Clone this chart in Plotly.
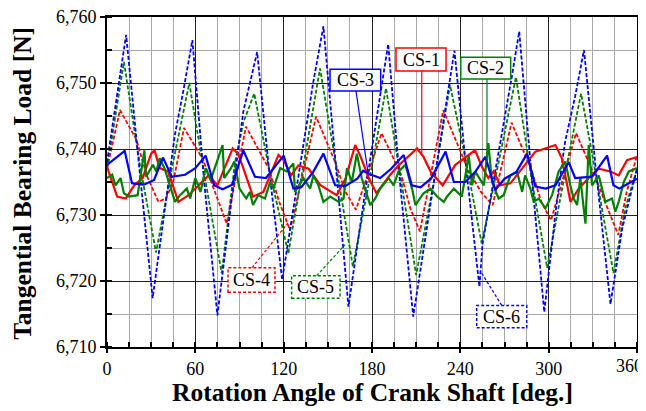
import plotly.graph_objects as go

# ---------------- data ----------------
cs1_x = [0, 6.9, 12.7, 18.5, 24.2, 30, 32.3, 35.8, 41.5, 48.5, 55.4, 62.3, 69, 75, 85.4, 88.9, 92.3, 99.2, 106.2,
         116.5, 120, 125, 130, 137, 145, 156, 162, 168.6, 172, 178, 183, 192, 198, 210.6, 215, 220, 228, 236.6,
         250, 254.7, 259, 262.6, 267, 274, 282, 291, 304.6, 309, 314.8, 320.4, 327.2, 334, 342, 347.6, 353.2, 360]
cs1_y = [6737.3, 6732.8, 6732.5, 6734.5, 6735.6, 6739.3, 6739.8, 6737.1, 6736.6, 6732.0, 6733.0, 6734.5, 6736.0,
         6734.5, 6740.1, 6739.3, 6737.3, 6732.8, 6733.5, 6739.1, 6738.3, 6736.0, 6737.5, 6737.0, 6734.5, 6733.0,
         6735.5, 6740.6, 6739.0, 6735.5, 6733.3, 6736.0, 6737.5, 6740.1, 6738.8, 6736.5, 6734.5, 6737.6, 6739.8,
         6737.3, 6735.6, 6736.6, 6734.5, 6734.8, 6737.0, 6739.6, 6740.6, 6738.6, 6732.0, 6734.0, 6735.6, 6737.0,
         6736.6, 6736.0, 6738.3, 6738.8]

cs2_x = [0, 3.5, 5.8, 9.2, 11.5, 15, 20.8, 25.4, 26.5, 31.2, 33.5, 35.8, 39.2, 42.7, 46.2, 49.6, 54.2, 56.5, 60,
         63.5, 67, 70.4, 78.5, 79.6, 84.2, 86.5, 90, 94.6, 97, 99.2, 102.7, 107.3, 110.8, 113, 117.7, 122, 126.6,
         127.7, 133.4, 138, 140.2, 143.6, 147, 151.6, 157.2, 160.7, 163, 166.3, 169.7, 173, 178.8, 182.2, 185.6,
         191.3, 194.7, 198, 202.7, 207.2, 209.5, 215, 219.7, 224.2, 228.8, 231, 235.6, 241, 245.7, 248, 250, 256,
         259, 261.5, 266, 269.4, 274, 278.5, 282, 284, 287.6, 289.8, 293.2, 297.8, 302.3, 306.8, 311.3, 314.7,
         317, 319.3, 321.5, 325, 327.2, 329.5, 334, 338.5, 343, 345.3, 347.6, 351, 354.4, 360]
cs2_y = [6735.6, 6736.1, 6734.5, 6735.6, 6733.3, 6732.8, 6733.0, 6739.8, 6735.8, 6737.6, 6736.6, 6738.6, 6737.0,
         6734.5, 6732.0, 6733.0, 6734.0, 6732.5, 6735.6, 6733.5, 6737.1, 6735.3, 6740.6, 6735.6, 6737.1, 6738.1,
         6734.0, 6732.5, 6733.5, 6731.5, 6733.0, 6732.5, 6735.0, 6734.0, 6737.1, 6736.6, 6737.8, 6733.5, 6735.6,
         6734.0, 6736.0, 6734.5, 6732.0, 6732.8, 6732.0, 6732.5, 6737.1, 6735.0, 6739.3, 6735.6, 6731.5, 6732.5,
         6734.0, 6735.6, 6734.5, 6736.6, 6737.6, 6734.0, 6731.5, 6733.3, 6734.0, 6732.8, 6732.0, 6732.8, 6734.0,
         6732.8, 6739.0, 6734.5, 6736.6, 6734.5, 6740.9, 6735.0, 6732.5, 6733.0, 6736.0, 6736.6, 6733.5, 6736.0,
         6734.0, 6732.0, 6732.5, 6731.0, 6733.0, 6736.6, 6738.1, 6734.5, 6732.5, 6731.5, 6735.6, 6728.7, 6740.6,
         6734.5, 6736.0, 6732.0, 6732.5, 6730.5, 6732.0, 6735.0, 6736.6, 6737.1]

cs3_x = [0, 12, 17, 25, 32, 38, 44, 53, 60, 67, 72.7, 78.5, 85, 92.6, 100.5, 108, 120, 126.6, 132, 140, 147, 155,
         162, 170, 174, 178, 185.6, 193, 201.5, 207, 213, 220, 230, 235.6, 243.4, 250, 257, 263.8, 270, 278, 285.3,
         291, 298, 304.6, 313.6, 318, 329.5, 339.7, 344, 348, 352, 360]
cs3_y = [6737.6, 6739.7, 6734.8, 6734.6, 6735.3, 6738.7, 6735.8, 6736.1, 6737.1, 6739.0, 6734.5, 6733.9, 6734.6,
         6739.8, 6735.8, 6735.6, 6739.0, 6734.0, 6734.2, 6736.5, 6739.3, 6734.5, 6734.4, 6735.5, 6736.7, 6736.2,
         6735.6, 6737.0, 6739.1, 6734.5, 6734.2, 6735.5, 6739.6, 6735.0, 6735.0, 6736.5, 6738.8, 6733.8, 6735.5,
         6736.5, 6739.3, 6734.3, 6734.0, 6734.5, 6738.0, 6735.6, 6735.8, 6739.0, 6734.5, 6734.0, 6734.5, 6735.5]

cs4_x = [0, 8.8, 20, 27, 34.9, 40, 45, 52.3, 65, 74, 81.3, 94.4, 110, 117, 124.3, 142, 155, 162, 169.1, 186.5, 200,
         206, 212.6, 228.4, 245, 254, 262, 274.8, 288, 295, 301.6, 318.6, 333, 340, 347.3, 353, 360]
cs4_y = [6737.0, 6745.9, 6741.4, 6736.0, 6732.0, 6732.5, 6735.0, 6743.2, 6738.5, 6733.0, 6728.7, 6743.4, 6737.0,
         6732.0, 6727.7, 6744.9, 6738.0, 6733.5, 6730.8, 6742.4, 6736.0, 6731.0, 6727.5, 6745.9, 6737.0, 6733.5,
         6731.5, 6744.0, 6737.0, 6732.0, 6729.2, 6742.4, 6735.0, 6731.0, 6727.0, 6733.5, 6739.0]

cs5_x = [0, 11.5, 22, 33.3, 44, 55.9, 67, 77.9, 87, 92.6, 100, 111, 123.2, 134, 144.7, 156, 167, 178, 189.5, 200,
         210, 222, 233, 244, 254.5, 266, 277.8, 288, 299, 310, 322, 333, 344, 352, 360]
cs5_y = [6737.0, 6753.2, 6738.0, 6724.3, 6737.0, 6750.0, 6735.0, 6721.2, 6738.0, 6744.0, 6748.4, 6736.0, 6724.2,
         6738.0, 6752.2, 6737.0, 6722.2, 6735.0, 6749.2, 6735.0, 6720.9, 6735.0, 6749.7, 6738.0, 6725.7, 6738.0,
         6750.9, 6736.0, 6722.0, 6735.0, 6748.4, 6735.0, 6721.2, 6731.0, 6737.0]

cs6_x = [0, 6, 13, 22, 31, 40, 46, 52, 58, 66, 75, 85, 92.6, 102, 110, 119, 130, 140, 147, 155, 164, 175, 185, 191,
         199, 208, 220, 230, 236, 244, 253, 255, 265, 275, 280, 288, 297, 305, 311, 318, 324, 332, 342, 350, 360]
cs6_y = [6738.0, 6747.0, 6757.3, 6737.0, 6717.4, 6732.0, 6742.0, 6749.0, 6756.5, 6735.0, 6714.8, 6733.0, 6745.7,
         6754.7, 6737.0, 6720.2, 6736.0, 6750.0, 6758.6, 6738.0, 6716.1, 6733.0, 6747.0, 6755.9, 6735.0, 6714.6,
         6732.0, 6746.0, 6754.9, 6737.0, 6719.1, 6725.5, 6738.0, 6751.0, 6757.8, 6737.0, 6715.3, 6731.0, 6740.9,
         6748.0, 6755.0, 6737.0, 6716.5, 6728.0, 6737.0]

series_names = ["CS-1", "CS-2", "CS-3", "CS-4", "CS-5", "CS-6"]
x_title = "Rotation Angle of Crank Shaft [deg.]"
y_title = "Tangential Bearing Load [N]"
x_last_tick = 360

RED, GREEN, BLUE = "#FF0000", "#008000", "#0000FF"
FONT = "Liberation Serif"

fig = go.Figure()
data = [(cs4_x, cs4_y, RED, "dash"), (cs5_x, cs5_y, GREEN, "dash"), (cs6_x, cs6_y, BLUE, "dash"),
        (cs1_x, cs1_y, RED, "solid"), (cs2_x, cs2_y, GREEN, "solid"), (cs3_x, cs3_y, BLUE, "solid")]
names = ["CS-4", "CS-5", "CS-6", "CS-1", "CS-2", "CS-3"]
for (xx, yy, col, dsh), nm in zip(data, names):
    fig.add_trace(go.Scatter(x=xx, y=yy, mode="lines", name=nm,
                             line=dict(color=col, width=2.2 if dsh == "solid" else 1.8,
                                       dash="solid" if dsh == "solid" else "4px,2px")))

# label boxes: (name, x0, x1, y0, y1, color, dash, leader from, leader to)
labels = [
    ("CS-1", 196.3, 230.3, 6751.8, 6755.3, RED, "solid", (213.8, 6751.8), (213.8, 6739.0)),
    ("CS-2", 240.3, 274.2, 6750.6, 6753.9, GREEN, "solid", (258.1, 6750.6), (258.1, 6738.0)),
    ("CS-3", 151.5, 185.9, 6748.8, 6752.1, BLUE, "solid", (169.1, 6748.8), (177.3, 6736.4)),
    ("CS-4", 82.2, 114.1, 6718.3, 6722.0, RED, "dash", (98.5, 6722.0), (122.9, 6728.8)),
    ("CS-5", 125.4, 158.3, 6717.4, 6720.8, GREEN, "dash", (142.4, 6720.8), (161.7, 6725.5)),
    ("CS-6", 251.1, 285.1, 6712.9, 6716.3, BLUE, "dash", (268.1, 6716.3), (254.5, 6721.2)),
]
for nm, x0, x1, y0, y1, col, dsh, p0, p1 in labels:
    fig.add_shape(type="line", x0=p0[0], y0=p0[1], x1=p1[0], y1=p1[1],
                  line=dict(color=col, width=1.2, dash="3px,2px" if dsh == "dash" else "solid"))
    fig.add_shape(type="rect", x0=x0, x1=x1, y0=y0, y1=y1, fillcolor="white",
                  line=dict(color=col, width=1.5, dash="3px,2px" if dsh == "dash" else "solid"))
    fig.add_annotation(x=(x0 + x1) / 2, y=(y0 + y1) / 2, text=nm, showarrow=False,
                       font=dict(family=FONT, size=18, color="black"))

# last x tick label kept inside the page edge (right-aligned like the reference)
fig.add_annotation(x=x_last_tick, y=0, xref="x", yref="paper", text=str(x_last_tick), showarrow=False,
                   xanchor="right", yanchor="middle", xshift=8, yshift=-19,
                   font=dict(family=FONT, size=18, color="black"))

# axis titles as paper annotations for exact placement
fig.add_annotation(x=0.5, y=-0.137, xref="paper", yref="paper", text="<b>" + x_title + "</b>",
                   showarrow=False, xanchor="center", yanchor="middle",
                   font=dict(family=FONT, size=25.5, color="black"))
fig.add_annotation(x=-0.16, y=0.495, xref="paper", yref="paper", text="<b>" + y_title + "</b>",
                   showarrow=False, xanchor="center", yanchor="middle", textangle=-90,
                   font=dict(family=FONT, size=25.5, color="black"))

# page body has an 8px default margin, so the figure is shrunk/offset to land on the same pixels
fig.update_layout(
    width=638, height=403,
    margin=dict(l=99, r=9, t=9, b=64),
    paper_bgcolor="white", plot_bgcolor="white",
    showlegend=False,
    font=dict(family=FONT, color="black", size=18),
)
fig.update_xaxes(
    range=[0, 360], tick0=0, dtick=60, ticks="outside", ticklen=4, tickwidth=1.5, tickcolor="black",
    showgrid=True, gridcolor="#222222", gridwidth=1.2,
    minor=dict(dtick=15, tick0=0, showgrid=True, gridcolor="#A8A8A8", gridwidth=1.2, ticks="inside",
               ticklen=5, tickcolor="black"),
    showline=True, linecolor="black", linewidth=2, mirror=True, zeroline=False, automargin=False,
    ticklabeloverflow="allow", labelalias={str(x_last_tick): ""},
    tickfont=dict(family=FONT, size=18),
)
fig.update_yaxes(
    range=[6710, 6760], tick0=6710, dtick=10, tickformat=",d", ticks="outside", ticklen=5, tickwidth=1.5,
    tickcolor="black",
    showgrid=True, gridcolor="#222222", gridwidth=1.2,
    minor=dict(dtick=5, tick0=6710, showgrid=True, gridcolor="#A8A8A8", gridwidth=1.2, ticks="inside",
               ticklen=5, tickcolor="black"),
    showline=True, linecolor="black", linewidth=2, mirror=True, zeroline=False, automargin=False,
    ticklabeloverflow="allow",
    tickfont=dict(family=FONT, size=18),
)
fig.write_html("out.html")
